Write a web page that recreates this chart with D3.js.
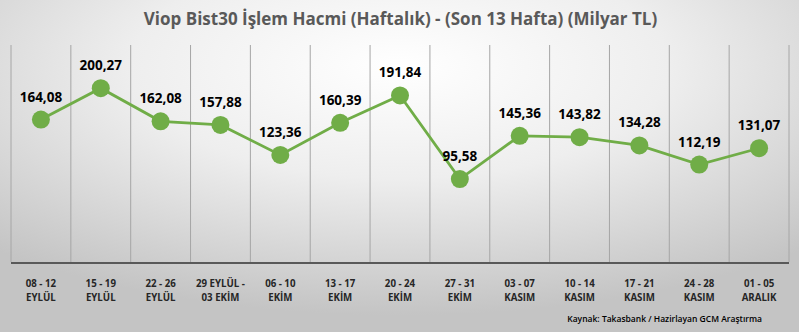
<!DOCTYPE html>
<html>
<head>
<meta charset="utf-8">
<script src="https://cdn.jsdelivr.net/npm/d3@7"></script>
<style>
  body { margin: 0; }
  svg { display: block; }
</style>
</head>
<body>
<div id="chart"></div>
<script>
// weekly values (billion TL)
const weeks = ["08 - 12", "15 - 19", "22 - 26", "29 EYLÜL  -", "06 - 10", "13 - 17", "20 - 24",
  "27 - 31", "03 - 07", "10 - 14", "17 - 21", "24 - 28", "01 - 05"];
const months = ["EYLÜL", "EYLÜL", "EYLÜL", "03 EKİM", "EKİM", "EKİM", "EKİM",
  "EKİM", "KASIM", "KASIM", "KASIM", "KASIM", "ARALIK"];
const volumes = [164.08, 200.27, 162.08, 157.88, 123.36, 160.39, 191.84,
  95.58, 145.36, 143.82, 134.28, 112.19, 131.07];

const W = 799, H = 332;
const margin = { top: 46, right: 10, bottom: 70, left: 11 };

const svg = d3.select("#chart").append("svg")
  .attr("width", W)
  .attr("height", H);

// background gradient (light centre, grey edges)
const defs = svg.append("defs");
const grad = defs.append("radialGradient")
  .attr("id", "bg")
  .attr("cx", "50%").attr("cy", "20%").attr("r", "75%")
  .attr("gradientUnits", "objectBoundingBox");
grad.append("stop").attr("offset", "0%").attr("stop-color", "#ffffff");
grad.append("stop").attr("offset", "45%").attr("stop-color", "#eeeeee");
grad.append("stop").attr("offset", "100%").attr("stop-color", "#c4c4c4");

svg.append("rect")
  .attr("width", W).attr("height", H)
  .attr("fill", "url(#bg)");

const x = d3.scaleBand()
  .domain(d3.range(weeks.length))
  .range([margin.left, W - margin.right]);

const y = d3.scaleLinear()
  .domain([0, 250])
  .range([H - margin.bottom, margin.top - 1]);

const base = y(0);

// vertical category separators
const edges = d3.range(weeks.length + 1).map(i => i < weeks.length ? x(i) : x.range()[1]);
svg.append("g")
  .selectAll("line")
  .data(edges)
  .join("line")
  .attr("x1", d => d).attr("x2", d => d)
  .attr("y1", y(250)).attr("y2", base)
  .attr("stroke", "#a6a6a6")
  .attr("stroke-width", 1);

// baseline
svg.append("line")
  .attr("x1", x.range()[0]).attr("x2", x.range()[1])
  .attr("y1", base + 1).attr("y2", base + 1)
  .attr("stroke", "#595959")
  .attr("stroke-width", 2);

// title
svg.append("text")
  .attr("x", W / 2 + 1)
  .attr("y", 25)
  .attr("text-anchor", "middle")
  .attr("font-family", "'Open Sans', sans-serif")
  .attr("font-weight", "bold")
  .attr("font-size", "17px")
  .attr("fill", "#595959")
  .text("Viop Bist30 İşlem Hacmi (Haftalık) - (Son 13 Hafta) (Milyar TL)");

const cx = i => x(i) + x.bandwidth() / 2;

const line = d3.line()
  .x((d, i) => cx(i))
  .y(d => y(d));

svg.append("path")
  .datum(volumes)
  .attr("fill", "none")
  .attr("stroke", "#70ad47")
  .attr("stroke-width", 2.8)
  .attr("d", line);

svg.append("g")
  .selectAll("circle")
  .data(volumes)
  .join("circle")
  .attr("cx", (d, i) => cx(i))
  .attr("cy", d => y(d))
  .attr("r", 9)
  .attr("fill", "#70ad47");

// value labels
svg.append("g")
  .selectAll("text")
  .data(volumes)
  .join("text")
  .attr("x", (d, i) => cx(i))
  .attr("y", d => y(d) - 18)
  .attr("text-anchor", "middle")
  .attr("font-family", "'Open Sans', sans-serif")
  .attr("font-weight", "bold")
  .attr("font-size", "13.5px")
  .attr("fill", "#000")
  .text(d => d.toFixed(2).replace(".", ","));

// category labels (two lines)
const ticks = svg.append("g")
  .selectAll("text")
  .data(weeks)
  .join("text")
  .attr("text-anchor", "middle")
  .attr("font-family", "'Open Sans', sans-serif")
  .attr("font-weight", "bold")
  .attr("font-size", "9.7px")
  .attr("fill", "#262626");
ticks.append("tspan")
  .attr("x", (d, i) => cx(i))
  .attr("y", 287)
  .text(d => d);
ticks.append("tspan")
  .attr("x", (d, i) => cx(i))
  .attr("y", 301)
  .text((d, i) => months[i]);

// source note
svg.append("text")
  .attr("x", 762)
  .attr("y", 322)
  .attr("text-anchor", "end")
  .attr("font-family", "'Open Sans', sans-serif")
  .attr("font-weight", "600")
  .attr("font-size", "8.5px")
  .attr("fill", "#000")
  .text("Kaynak: Takasbank / Hazirlayan GCM Araştırma");
</script>
</body>
</html>
